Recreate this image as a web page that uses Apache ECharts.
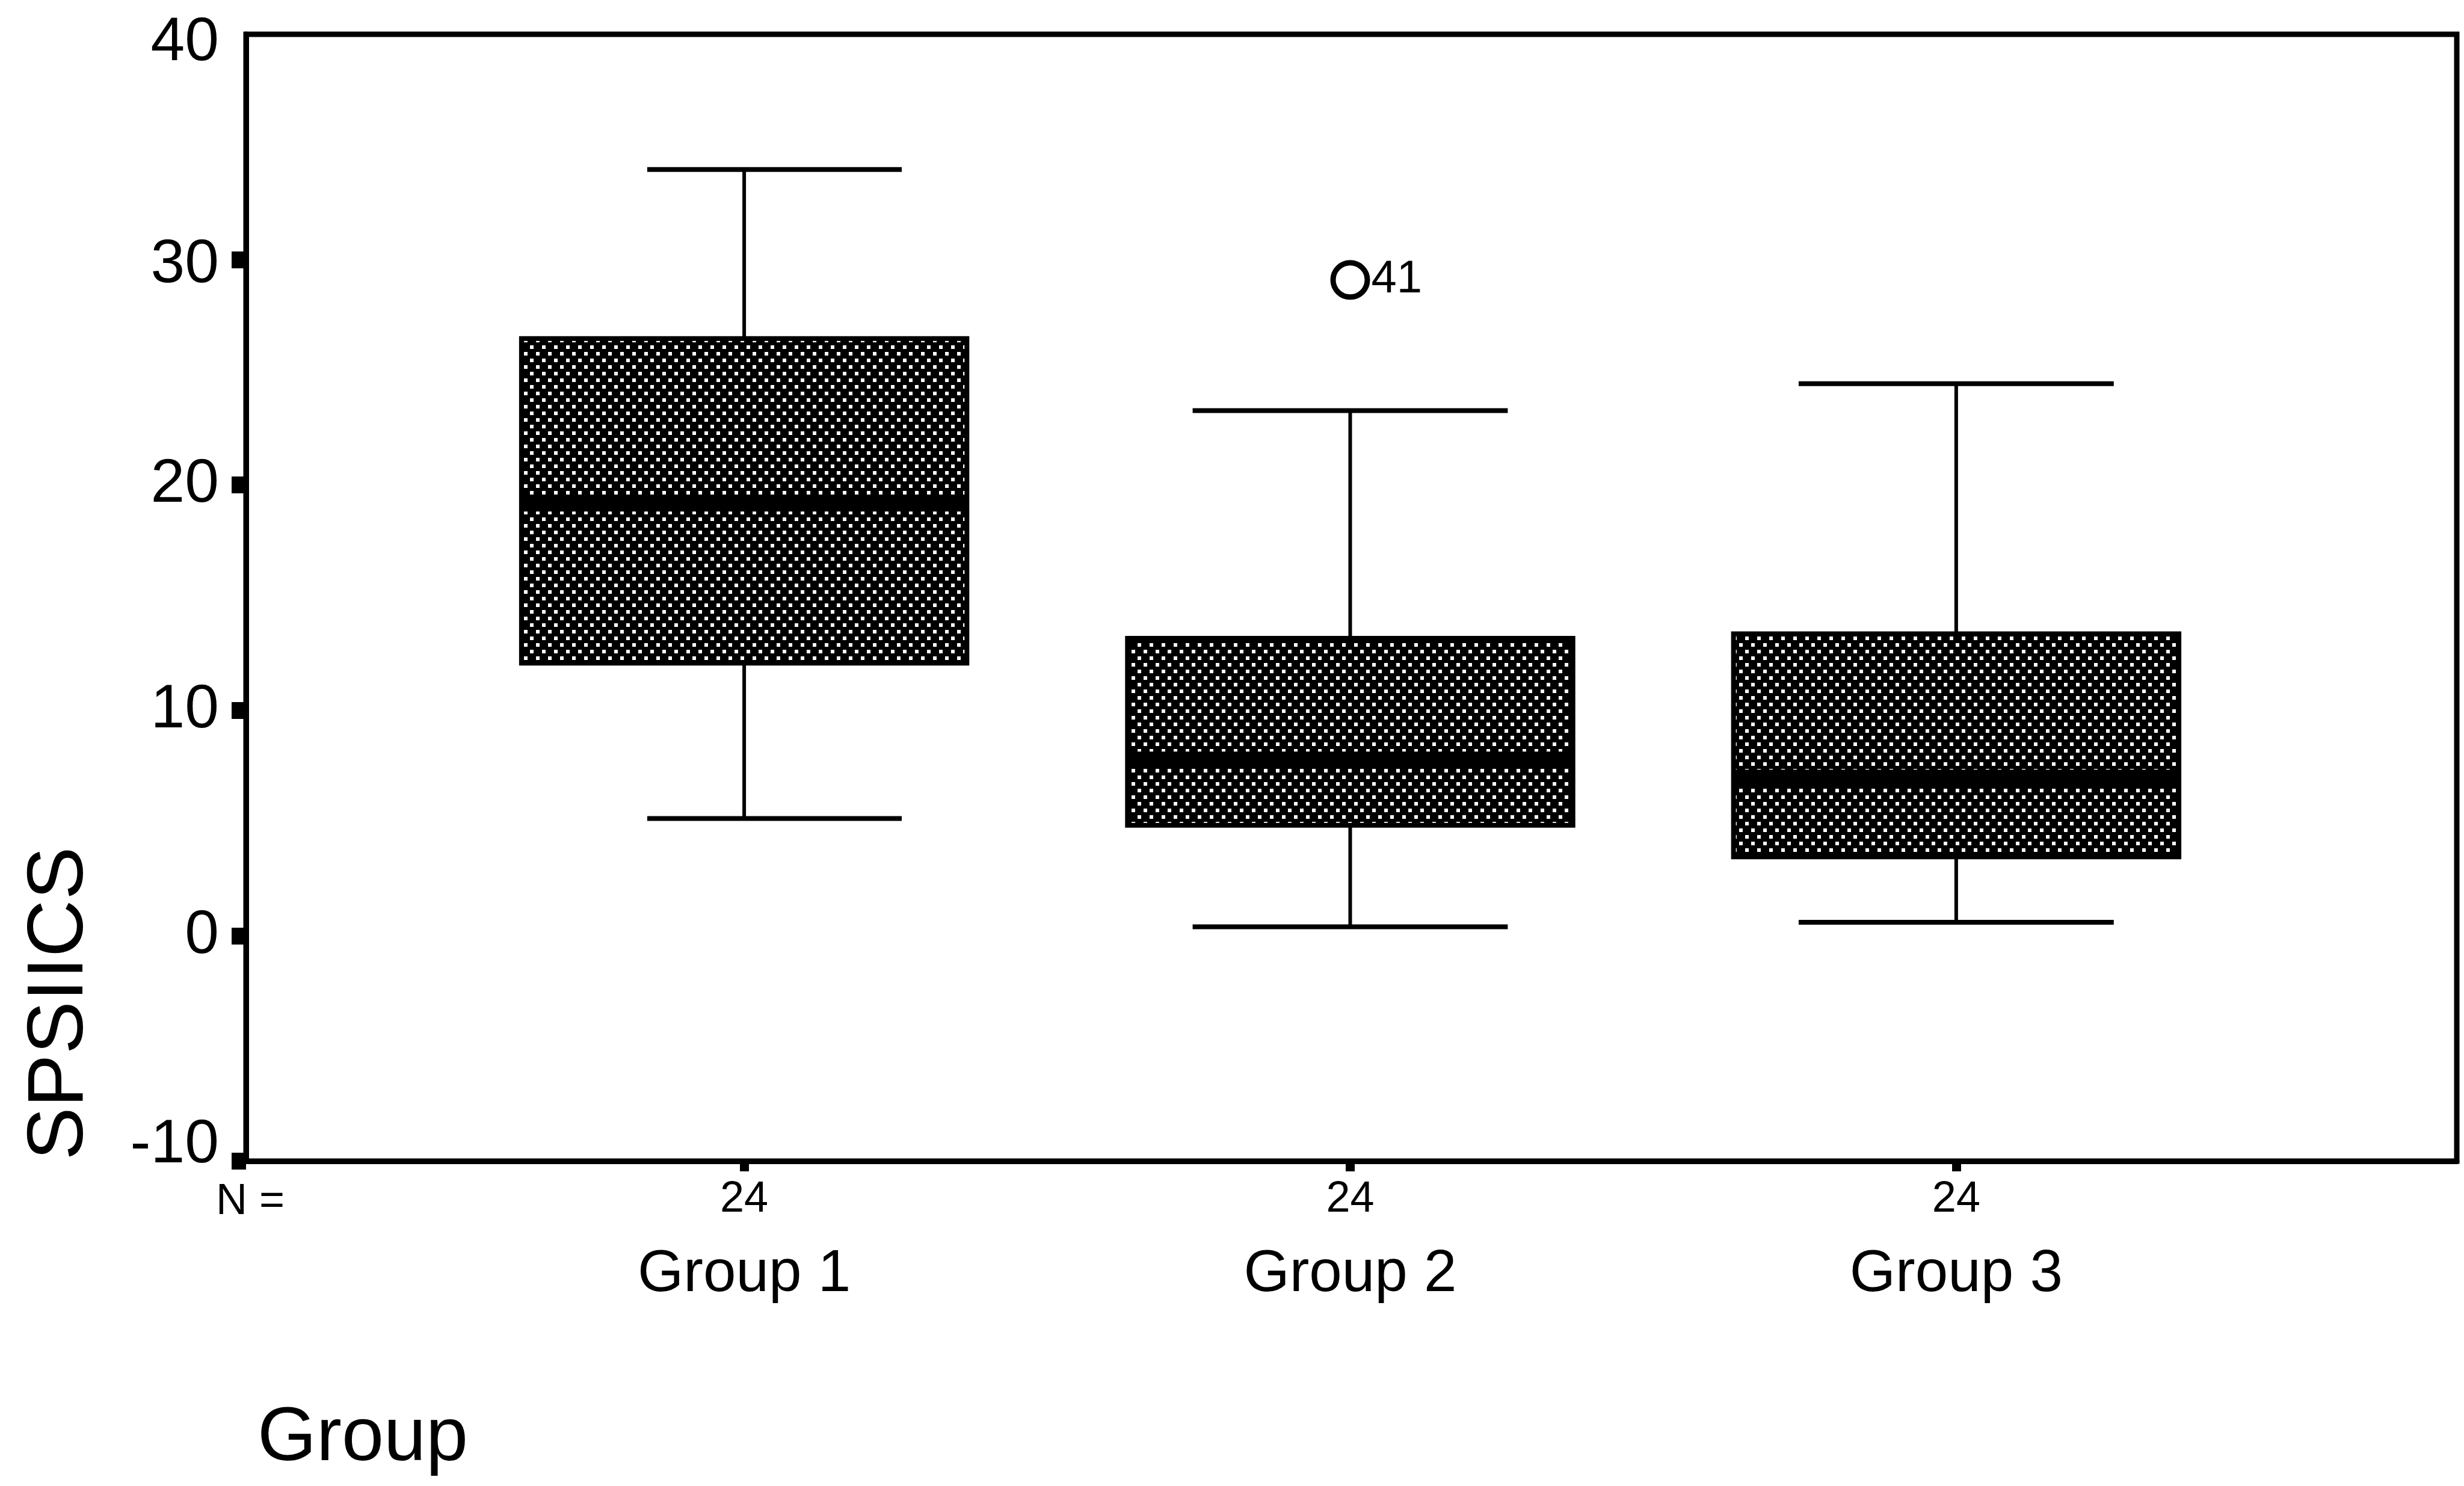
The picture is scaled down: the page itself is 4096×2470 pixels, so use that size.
<!DOCTYPE html>
<html>
<head>
<meta charset="utf-8">
<title>SPSIICS by Group</title>
<script src="https://cdn.jsdelivr.net/npm/echarts@6/dist/echarts.min.js"></script>
<style>
  html, body { margin: 0; padding: 0; background: #fff; }
  #chart { width: 4096px; height: 2470px; }
</style>
</head>
<body>
<div id="chart"></div>
<script>
// Box plot summaries per group (SPSIICS score)
const groupNames  = ['Group 1', 'Group 2', 'Group 3'];
const groupN      = [24, 24, 24];
const whiskerLow  = [5.2, 0.4, 0.6];
const quartile1   = [12.1, 4.9, 3.5];
const medians     = [19.2, 7.8, 7.0];
const quartile3   = [26.5, 13.2, 13.4];
const whiskerHigh = [34.0, 23.3, 24.5];

// Outlying case, drawn as an open circle with its case number
const outlierGroup = [2];
const outlierValue = [29.1];
const outlierCase  = ['41'];

// Value axis ticks
const yTicks = [-10, 0, 10, 20, 30];

const FONT = '"Liberation Sans", Arial, Helvetica, sans-serif';

// Drawing styles
const STYLE = {
  boxWidth: 0.735,
  capWidth: [0.42, 0.52, 0.52],
  capShift: [0.05, 0, 0],
  whiskerLine: 6,
  capLine: 8,
  boxLine: 8,
  medianLine: 28
};

// Dense halftone fill: black ground with staggered white dots
function makeDotPattern() {
  const c = document.createElement('canvas');
  c.width = 20; c.height = 22;
  const g = c.getContext('2d');
  g.fillStyle = '#000';
  g.fillRect(0, 0, 20, 22);
  g.fillStyle = '#fff';
  g.fillRect(1, 2, 6, 6);
  g.fillRect(11, 13, 6, 6);
  return c;
}
const dotFill = { image: makeDotPattern(), repeat: 'repeat' };

const boxData = groupNames.map((name, i) => [
  i + 1, whiskerLow[i], quartile1[i], medians[i], quartile3[i], whiskerHigh[i]
]);
const outlierData = outlierGroup.map((g, i) => ({
  value: [g, outlierValue[i]],
  caseId: outlierCase[i]
}));

function renderBox(params, api) {
  const i = params.dataIndex;
  const x = api.value(0);
  const lo = api.coord([x, api.value(1)]);
  const q1 = api.coord([x, api.value(2)]);
  const md = api.coord([x, api.value(3)]);
  const q3 = api.coord([x, api.value(4)]);
  const hi = api.coord([x, api.value(5)]);
  const bw = api.size([STYLE.boxWidth, 0])[0];
  const cw = api.size([STYLE.capWidth[i], 0])[0];
  const cs = api.size([STYLE.capShift[i], 0])[0];
  const cx = lo[0];
  const capX = cx + cs;
  const line = (x1, y1, x2, y2, w) => ({
    type: 'line',
    shape: { x1: x1, y1: y1, x2: x2, y2: y2 },
    style: { stroke: '#000', lineWidth: w, lineCap: 'butt' }
  });
  return {
    type: 'group',
    children: [
      line(cx, q3[1], cx, hi[1], STYLE.whiskerLine),
      line(cx, lo[1], cx, q1[1], STYLE.whiskerLine),
      line(capX - cw / 2, hi[1], capX + cw / 2, hi[1], STYLE.capLine),
      line(capX - cw / 2, lo[1], capX + cw / 2, lo[1], STYLE.capLine),
      {
        type: 'rect',
        shape: { x: cx - bw / 2, y: q3[1], width: bw, height: q1[1] - q3[1] },
        style: { fill: dotFill, stroke: '#000', lineWidth: STYLE.boxLine }
      },
      line(cx - bw / 2, md[1], cx + bw / 2, md[1], STYLE.medianLine)
    ]
  };
}

const chart = echarts.init(document.getElementById('chart'), null, { renderer: 'canvas' });

chart.setOption({
  backgroundColor: '#fff',
  animation: false,
  grid: {
    left: 409, top: 57, width: 3675, height: 1873,
    show: true, borderColor: '#000', borderWidth: 9,
    backgroundColor: 'transparent',
    outerBoundsMode: 'none'
  },
  xAxis: {
    type: 'value',
    min: 0.178, max: 3.826,
    splitLine: { show: false },
    axisLine: { show: true, onZero: false, lineStyle: { color: '#000', width: 9 } },
    axisTick: {
      show: true, customValues: [1, 2, 3], length: 17,
      lineStyle: { color: '#000', width: 15 }
    },
    axisLabel: {
      customValues: [1, 2, 3],
      margin: 20,
      formatter: (v) => {
        const i = Math.round(v) - 1;
        return '{n|' + groupN[i] + '}\n{g|' + groupNames[i] + '}';
      },
      rich: {
        n: { fontFamily: FONT, fontSize: 72, lineHeight: 88, color: '#000', align: 'center' },
        g: { fontFamily: FONT, fontSize: 98, lineHeight: 162, color: '#000', align: 'center' }
      }
    }
  },
  yAxis: {
    type: 'value',
    min: -10, max: 40, interval: 10,
    splitLine: { show: false },
    axisLine: { show: true, onZero: false, lineStyle: { color: '#000', width: 9 } },
    axisTick: {
      show: true, customValues: yTicks, length: 24,
      lineStyle: { color: '#000', width: 28 }
    },
    axisLabel: {
      margin: 45,
      formatter: (v) => {
        if (v === 40) return '{top|40}';
        if (v === 30) return '{upper|30}';
        if (v === -10) return '{low|-10}';
        return '{mid|' + v + '}';
      },
      rich: {
        mid:   { fontFamily: FONT, fontSize: 102, color: '#000' },
        top:   { fontFamily: FONT, fontSize: 102, color: '#000', padding: [30, 0, 0, 0] },
        upper: { fontFamily: FONT, fontSize: 102, color: '#000', padding: [19, 0, 0, 0] },
        low:   { fontFamily: FONT, fontSize: 102, color: '#000', padding: [0, 0, 52, 0] }
      }
    }
  },
  graphic: [
    {
      type: 'text', x: 101, y: 1668, rotation: Math.PI / 2,
      style: { text: 'SPSIICS', fontFamily: FONT, fontSize: 132, fill: '#000',
               align: 'center', verticalAlign: 'middle' }
    },
    {
      type: 'text', x: 359, y: 1998,
      style: { text: 'N =', fontFamily: FONT, fontSize: 72, fill: '#000',
               align: 'left', verticalAlign: 'middle' }
    },
    {
      type: 'text', x: 428, y: 2392,
      style: { text: 'Group', fontFamily: FONT, fontSize: 126, fill: '#000',
               align: 'left', verticalAlign: 'middle' }
    }
  ],
  series: [
    {
      type: 'custom',
      name: 'SPSIICS',
      renderItem: renderBox,
      encode: { x: 0, y: [1, 2, 3, 4, 5] },
      data: boxData,
      clip: false,
      z: 3
    },
    {
      type: 'scatter',
      name: 'Outliers',
      data: outlierData,
      symbol: 'circle',
      symbolSize: 57,
      itemStyle: { color: '#fff', borderColor: '#000', borderWidth: 9, opacity: 1 },
      label: {
        show: true, position: 'right', distance: 2,
        formatter: (p) => p.data.caseId,
        fontFamily: FONT, fontSize: 76, color: '#000'
      },
      z: 4
    }
  ]
});
</script>
</body>
</html>
